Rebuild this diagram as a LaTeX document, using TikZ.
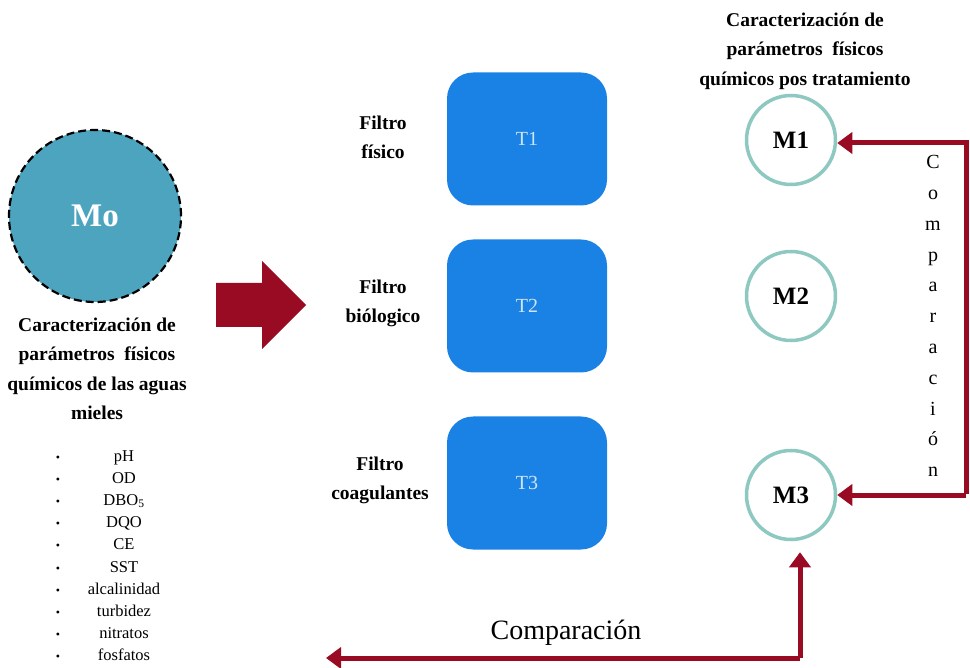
\documentclass[tikz,border=0pt]{standalone}
\usepackage{fontspec}
\setmainfont{Liberation Serif}
\usetikzlibrary{arrows.meta}
\definecolor{dred}{HTML}{990B23}
\definecolor{boxblue}{HTML}{1A82E4}
\definecolor{mteal}{HTML}{4CA4BF}
\definecolor{ring}{HTML}{8DC8C1}
\definecolor{tlabel}{HTML}{CFE4F6}
\tikzset{
  tbox/.style={draw=none, fill=boxblue, rounded corners=26pt, minimum width=160pt, minimum height=133pt, text=tlabel, font=\fontsize{20}{20}\selectfont},
  mcirc/.style={circle, draw=ring, line width=3.5pt, fill=white, minimum size=89pt, inner sep=0pt, font=\bfseries\fontsize{25}{25}\selectfont},
  captxt/.style={align=center, font=\bfseries\fontsize{19.5}{29.5}\selectfont},
  flabel/.style={align=center, font=\bfseries\fontsize{19.5}{29}\selectfont},
  conn/.style={dred, line width=5pt, -{Triangle[length=15pt,width=21pt]}},
  litem/.style={font=\fontsize{16.5}{16.5}\selectfont, anchor=base},
}
\begin{document}
\begin{tikzpicture}[x=1pt,y=-1pt]
\useasboundingbox (0,0) rectangle (970,668);
% Mo
\node[circle, draw=black, line width=2.2pt, dash pattern=on 8pt off 4pt, fill=mteal, minimum size=172pt, inner sep=0pt, text=white, font=\bfseries\fontsize{33}{33}\selectfont] (mo) at (95,216) {Mo};
\node[captxt] (capL) at (97,369) {Caracterización de\\parámetros\ \ físicos\\químicos de las aguas\\mieles};
% list
\foreach \t [count=\i] in {pH,OD,DBO\textsubscript{5},DQO,CE,SST,alcalinidad,turbidez,nitratos,fosfatos}{
  \pgfmathsetmacro{\yy}{461+22.2*(\i-1)}
  \node[litem] (li\i) at (124,\yy) {\t};
  \node[litem, font=\fontsize{12}{12}\selectfont] (bu\i) at (58,\yy) {\textbullet};
}
% big arrow
\fill[dred] (216,283) -- (262,283) -- (262,261) -- (306,305) -- (262,349) -- (262,327) -- (216,327) -- cycle;
\coordinate (big) at (261,305);
% filter boxes
\node[tbox] (t1) at (527,139) {T1};
\node[tbox] (t2) at (527,306) {T2};
\node[tbox] (t3) at (527,483) {T3};
\node[flabel] (f1) at (383,137) {Filtro\\físico};
\node[flabel] (f2) at (383,303) {Filtro\\biólogico};
\node[flabel] (f3) at (380,480) {Filtro\\coagulantes};
% M circles
\node[mcirc] (m1) at (791,140) {M1};
\node[mcirc] (m2) at (791,296) {M2};
\node[mcirc] (m3) at (791,495) {M3};
\node[captxt] (capR) at (805,51) {Caracterización de\\parámetros\ \ físicos\\químicos pos tratamiento};
% right bracket
\coordinate (rt) at (966,143);
\coordinate (rb) at (966,494);
\draw[conn] (rb) -- (rt) -- (m1.east |- rt);
\draw[conn] (rt |- m3.east) -- (m3.east);
\node[align=center, font=\fontsize{20}{30.8}\selectfont] (vt) at (933,316) {C\\o\\m\\p\\a\\r\\a\\c\\i\\ó\\n};
% bottom
\coordinate (bc) at (800,658);
\coordinate (bl) at (326,658);
\draw[conn] (bc) -- ([yshift=-11pt]m3.south -| bc);
\draw[conn] (bc) -- (bl);
\node[font=\fontsize{28}{28}\selectfont] (cmp) at (566,633) {Comparación};
\end{tikzpicture}
\end{document}
